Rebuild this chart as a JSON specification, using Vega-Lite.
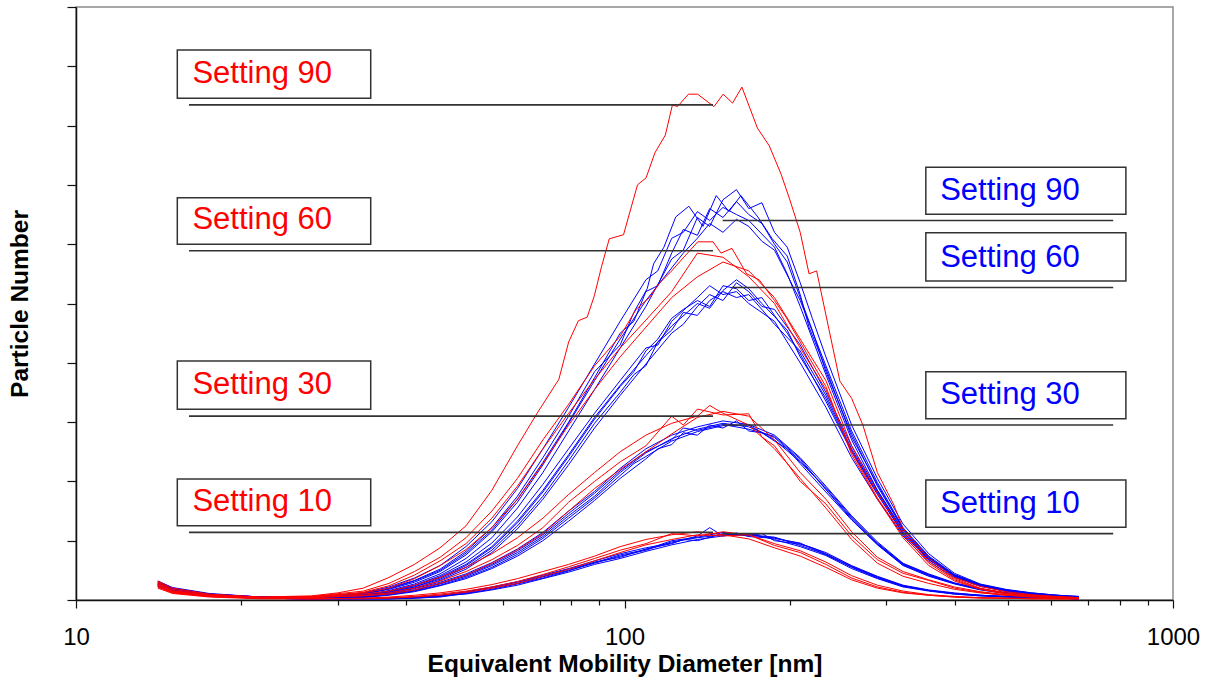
{
"$schema": "https://vega.github.io/schema/vega-lite/v6.json",
"width": 1097,
"height": 593,
"autosize": {"type": "none"},
"padding": {"left": 76, "top": 7, "right": 40, "bottom": 82},
"background": "white",
"config": {"view": {"stroke": "#8c8c8c", "strokeWidth": 1.5}, "font": "Liberation Sans"},
"datasets": {
"curves": [
{"s":"B1a","d":14.1,"v":0.24},{"s":"B1a","d":15.0,"v":0.15},{"s":"B1a","d":17.5,"v":0.07},{"s":"B1a","d":21.7,"v":0.03},{"s":"B1a","d":26.9,"v":0.02},{"s":"B1a","d":33.4,"v":0.02},{"s":"B1a","d":37.2,"v":0.02},{"s":"B1a","d":41.4,"v":0.03},{"s":"B1a","d":46.1,"v":0.06},{"s":"B1a","d":51.4,"v":0.12},{"s":"B1a","d":57.3,"v":0.2},{"s":"B1a","d":63.8,"v":0.28},{"s":"B1a","d":71.0,"v":0.39},{"s":"B1a","d":79.1,"v":0.5},{"s":"B1a","d":88.2,"v":0.62},{"s":"B1a","d":98.2,"v":0.74},{"s":"B1a","d":109.4,"v":0.84},{"s":"B1a","d":121.9,"v":0.98},{"s":"B1a","d":135.8,"v":1.05},{"s":"B1a","d":151.2,"v":1.1},{"s":"B1a","d":168.5,"v":1.1},{"s":"B1a","d":187.7,"v":1.06},{"s":"B1a","d":209.1,"v":0.92},{"s":"B1a","d":232.9,"v":0.77},{"s":"B1a","d":259.5,"v":0.55},{"s":"B1a","d":289.1,"v":0.37},{"s":"B1a","d":322.0,"v":0.23},{"s":"B1a","d":358.7,"v":0.16},{"s":"B1a","d":399.6,"v":0.11},{"s":"B1a","d":445.1,"v":0.08},{"s":"B1a","d":495.8,"v":0.06},{"s":"B1a","d":552.3,"v":0.04},{"s":"B1a","d":615.3,"v":0.03},{"s":"B1a","d":673.2,"v":0.02},
{"s":"B1b","d":14.1,"v":0.22},{"s":"B1b","d":15.0,"v":0.14},{"s":"B1b","d":17.5,"v":0.07},{"s":"B1b","d":21.7,"v":0.03},{"s":"B1b","d":26.9,"v":0.02},{"s":"B1b","d":33.4,"v":0.02},{"s":"B1b","d":37.2,"v":0.02},{"s":"B1b","d":41.4,"v":0.04},{"s":"B1b","d":46.1,"v":0.07},{"s":"B1b","d":51.4,"v":0.1},{"s":"B1b","d":57.3,"v":0.17},{"s":"B1b","d":63.8,"v":0.25},{"s":"B1b","d":71.0,"v":0.36},{"s":"B1b","d":79.1,"v":0.47},{"s":"B1b","d":88.2,"v":0.6},{"s":"B1b","d":98.2,"v":0.7},{"s":"B1b","d":109.4,"v":0.82},{"s":"B1b","d":121.9,"v":0.93},{"s":"B1b","d":135.8,"v":1.02},{"s":"B1b","d":151.2,"v":1.08},{"s":"B1b","d":160,"v":1.13},{"s":"B1b","d":168.5,"v":1.07},{"s":"B1b","d":187.7,"v":1.04},{"s":"B1b","d":209.1,"v":0.95},{"s":"B1b","d":232.9,"v":0.8},{"s":"B1b","d":259.5,"v":0.58},{"s":"B1b","d":289.1,"v":0.4},{"s":"B1b","d":322.0,"v":0.25},{"s":"B1b","d":358.7,"v":0.17},{"s":"B1b","d":399.6,"v":0.12},{"s":"B1b","d":445.1,"v":0.08},{"s":"B1b","d":495.8,"v":0.06},{"s":"B1b","d":552.3,"v":0.05},{"s":"B1b","d":615.3,"v":0.03},{"s":"B1b","d":673.2,"v":0.02},
{"s":"B1c","d":14.1,"v":0.26},{"s":"B1c","d":15.0,"v":0.16},{"s":"B1c","d":17.5,"v":0.08},{"s":"B1c","d":21.7,"v":0.03},{"s":"B1c","d":26.9,"v":0.02},{"s":"B1c","d":33.4,"v":0.03},{"s":"B1c","d":37.2,"v":0.03},{"s":"B1c","d":41.4,"v":0.05},{"s":"B1c","d":46.1,"v":0.08},{"s":"B1c","d":51.4,"v":0.14},{"s":"B1c","d":57.3,"v":0.22},{"s":"B1c","d":63.8,"v":0.31},{"s":"B1c","d":71.0,"v":0.42},{"s":"B1c","d":79.1,"v":0.53},{"s":"B1c","d":88.2,"v":0.66},{"s":"B1c","d":98.2,"v":0.78},{"s":"B1c","d":109.4,"v":0.88},{"s":"B1c","d":121.9,"v":0.96},{"s":"B1c","d":135.8,"v":1.08},{"s":"B1c","d":143,"v":1.22},{"s":"B1c","d":151.2,"v":1.08},{"s":"B1c","d":168.5,"v":1.12},{"s":"B1c","d":187.7,"v":1.02},{"s":"B1c","d":209.1,"v":0.9},{"s":"B1c","d":232.9,"v":0.75},{"s":"B1c","d":259.5,"v":0.53},{"s":"B1c","d":289.1,"v":0.36},{"s":"B1c","d":322.0,"v":0.22},{"s":"B1c","d":358.7,"v":0.15},{"s":"B1c","d":399.6,"v":0.1},{"s":"B1c","d":445.1,"v":0.07},{"s":"B1c","d":495.8,"v":0.05},{"s":"B1c","d":552.3,"v":0.04},{"s":"B1c","d":615.3,"v":0.03},{"s":"B1c","d":673.2,"v":0.02},
{"s":"B1d","d":14.1,"v":0.23},{"s":"B1d","d":15.0,"v":0.15},{"s":"B1d","d":17.5,"v":0.07},{"s":"B1d","d":21.7,"v":0.03},{"s":"B1d","d":26.9,"v":0.02},{"s":"B1d","d":33.4,"v":0.02},{"s":"B1d","d":37.2,"v":0.02},{"s":"B1d","d":41.4,"v":0.03},{"s":"B1d","d":46.1,"v":0.05},{"s":"B1d","d":51.4,"v":0.11},{"s":"B1d","d":57.3,"v":0.18},{"s":"B1d","d":63.8,"v":0.27},{"s":"B1d","d":71.0,"v":0.37},{"s":"B1d","d":79.1,"v":0.49},{"s":"B1d","d":88.2,"v":0.64},{"s":"B1d","d":98.2,"v":0.72},{"s":"B1d","d":109.4,"v":0.86},{"s":"B1d","d":121.9,"v":0.95},{"s":"B1d","d":128,"v":1.02},{"s":"B1d","d":135.8,"v":1.0},{"s":"B1d","d":151.2,"v":1.12},{"s":"B1d","d":168.5,"v":1.08},{"s":"B1d","d":178,"v":1.12},{"s":"B1d","d":187.7,"v":1.0},{"s":"B1d","d":209.1,"v":0.94},{"s":"B1d","d":220,"v":0.88},{"s":"B1d","d":232.9,"v":0.78},{"s":"B1d","d":259.5,"v":0.57},{"s":"B1d","d":289.1,"v":0.39},{"s":"B1d","d":322.0,"v":0.24},{"s":"B1d","d":358.7,"v":0.16},{"s":"B1d","d":399.6,"v":0.11},{"s":"B1d","d":445.1,"v":0.08},{"s":"B1d","d":495.8,"v":0.06},{"s":"B1d","d":552.3,"v":0.04},{"s":"B1d","d":615.3,"v":0.03},{"s":"B1d","d":673.2,"v":0.02},
{"s":"B1e","d":14.1,"v":0.25},{"s":"B1e","d":15.0,"v":0.16},{"s":"B1e","d":17.5,"v":0.08},{"s":"B1e","d":21.7,"v":0.04},{"s":"B1e","d":26.9,"v":0.02},{"s":"B1e","d":33.4,"v":0.02},{"s":"B1e","d":37.2,"v":0.03},{"s":"B1e","d":41.4,"v":0.04},{"s":"B1e","d":46.1,"v":0.07},{"s":"B1e","d":51.4,"v":0.13},{"s":"B1e","d":57.3,"v":0.21},{"s":"B1e","d":63.8,"v":0.3},{"s":"B1e","d":71.0,"v":0.4},{"s":"B1e","d":79.1,"v":0.52},{"s":"B1e","d":88.2,"v":0.63},{"s":"B1e","d":98.2,"v":0.76},{"s":"B1e","d":109.4,"v":0.85},{"s":"B1e","d":121.9,"v":1.0},{"s":"B1e","d":135.8,"v":1.06},{"s":"B1e","d":151.2,"v":1.14},{"s":"B1e","d":168.5,"v":1.09},{"s":"B1e","d":187.7,"v":1.05},{"s":"B1e","d":198,"v":1.0},{"s":"B1e","d":209.1,"v":0.96},{"s":"B1e","d":232.9,"v":0.76},{"s":"B1e","d":259.5,"v":0.56},{"s":"B1e","d":289.1,"v":0.38},{"s":"B1e","d":322.0,"v":0.24},{"s":"B1e","d":358.7,"v":0.16},{"s":"B1e","d":399.6,"v":0.1},{"s":"B1e","d":445.1,"v":0.07},{"s":"B1e","d":495.8,"v":0.05},{"s":"B1e","d":552.3,"v":0.04},{"s":"B1e","d":615.3,"v":0.03},{"s":"B1e","d":673.2,"v":0.02},
{"s":"B3a","d":14.1,"v":0.26},{"s":"B3a","d":15.0,"v":0.16},{"s":"B3a","d":17.5,"v":0.08},{"s":"B3a","d":21.7,"v":0.03},{"s":"B3a","d":26.9,"v":0.02},{"s":"B3a","d":33.4,"v":0.05},{"s":"B3a","d":37.2,"v":0.1},{"s":"B3a","d":41.4,"v":0.16},{"s":"B3a","d":46.1,"v":0.27},{"s":"B3a","d":51.4,"v":0.4},{"s":"B3a","d":57.3,"v":0.58},{"s":"B3a","d":63.8,"v":0.8},{"s":"B3a","d":71.0,"v":1.07},{"s":"B3a","d":79.1,"v":1.42},{"s":"B3a","d":88.2,"v":1.75},{"s":"B3a","d":98.2,"v":2.15},{"s":"B3a","d":109.4,"v":2.48},{"s":"B3a","d":121.9,"v":2.72},{"s":"B3a","d":135.8,"v":2.88},{"s":"B3a","d":151.2,"v":2.98},{"s":"B3a","d":168.5,"v":2.92},{"s":"B3a","d":187.7,"v":2.74},{"s":"B3a","d":209.1,"v":2.35},{"s":"B3a","d":232.9,"v":1.87},{"s":"B3a","d":259.5,"v":1.38},{"s":"B3a","d":289.1,"v":0.95},{"s":"B3a","d":322.0,"v":0.6},{"s":"B3a","d":358.7,"v":0.42},{"s":"B3a","d":399.6,"v":0.28},{"s":"B3a","d":445.1,"v":0.18},{"s":"B3a","d":495.8,"v":0.12},{"s":"B3a","d":552.3,"v":0.08},{"s":"B3a","d":615.3,"v":0.06},{"s":"B3a","d":673.2,"v":0.04},
{"s":"B3b","d":14.1,"v":0.24},{"s":"B3b","d":15.0,"v":0.15},{"s":"B3b","d":17.5,"v":0.07},{"s":"B3b","d":21.7,"v":0.03},{"s":"B3b","d":26.9,"v":0.02},{"s":"B3b","d":33.4,"v":0.04},{"s":"B3b","d":37.2,"v":0.08},{"s":"B3b","d":41.4,"v":0.14},{"s":"B3b","d":46.1,"v":0.24},{"s":"B3b","d":51.4,"v":0.36},{"s":"B3b","d":57.3,"v":0.53},{"s":"B3b","d":63.8,"v":0.74},{"s":"B3b","d":71.0,"v":1.0},{"s":"B3b","d":79.1,"v":1.33},{"s":"B3b","d":88.2,"v":1.68},{"s":"B3b","d":98.2,"v":2.05},{"s":"B3b","d":109.4,"v":2.38},{"s":"B3b","d":115,"v":2.55},{"s":"B3b","d":121.9,"v":2.62},{"s":"B3b","d":128,"v":2.82},{"s":"B3b","d":135.8,"v":2.78},{"s":"B3b","d":143,"v":2.95},{"s":"B3b","d":151.2,"v":2.9},{"s":"B3b","d":160,"v":3.02},{"s":"B3b","d":168.5,"v":2.85},{"s":"B3b","d":178,"v":2.82},{"s":"B3b","d":187.7,"v":2.68},{"s":"B3b","d":198,"v":2.55},{"s":"B3b","d":209.1,"v":2.3},{"s":"B3b","d":232.9,"v":1.82},{"s":"B3b","d":259.5,"v":1.35},{"s":"B3b","d":289.1,"v":0.93},{"s":"B3b","d":322.0,"v":0.58},{"s":"B3b","d":358.7,"v":0.4},{"s":"B3b","d":399.6,"v":0.27},{"s":"B3b","d":445.1,"v":0.17},{"s":"B3b","d":495.8,"v":0.11},{"s":"B3b","d":552.3,"v":0.08},{"s":"B3b","d":615.3,"v":0.05},{"s":"B3b","d":673.2,"v":0.04},
{"s":"B3c","d":14.1,"v":0.27},{"s":"B3c","d":15.0,"v":0.17},{"s":"B3c","d":17.5,"v":0.08},{"s":"B3c","d":21.7,"v":0.04},{"s":"B3c","d":26.9,"v":0.03},{"s":"B3c","d":33.4,"v":0.06},{"s":"B3c","d":37.2,"v":0.12},{"s":"B3c","d":41.4,"v":0.19},{"s":"B3c","d":46.1,"v":0.3},{"s":"B3c","d":51.4,"v":0.44},{"s":"B3c","d":57.3,"v":0.63},{"s":"B3c","d":63.8,"v":0.86},{"s":"B3c","d":71.0,"v":1.14},{"s":"B3c","d":79.1,"v":1.5},{"s":"B3c","d":88.2,"v":1.83},{"s":"B3c","d":98.2,"v":2.22},{"s":"B3c","d":109.4,"v":2.55},{"s":"B3c","d":121.9,"v":2.78},{"s":"B3c","d":135.8,"v":2.92},{"s":"B3c","d":151.2,"v":3.02},{"s":"B3c","d":168.5,"v":2.96},{"s":"B3c","d":187.7,"v":2.78},{"s":"B3c","d":209.1,"v":2.4},{"s":"B3c","d":232.9,"v":1.92},{"s":"B3c","d":259.5,"v":1.42},{"s":"B3c","d":289.1,"v":0.98},{"s":"B3c","d":322.0,"v":0.62},{"s":"B3c","d":358.7,"v":0.44},{"s":"B3c","d":399.6,"v":0.29},{"s":"B3c","d":445.1,"v":0.19},{"s":"B3c","d":495.8,"v":0.12},{"s":"B3c","d":552.3,"v":0.08},{"s":"B3c","d":615.3,"v":0.06},{"s":"B3c","d":673.2,"v":0.04},
{"s":"B3d","d":14.1,"v":0.25},{"s":"B3d","d":15.0,"v":0.16},{"s":"B3d","d":17.5,"v":0.08},{"s":"B3d","d":21.7,"v":0.03},{"s":"B3d","d":26.9,"v":0.02},{"s":"B3d","d":33.4,"v":0.05},{"s":"B3d","d":37.2,"v":0.09},{"s":"B3d","d":41.4,"v":0.15},{"s":"B3d","d":46.1,"v":0.25},{"s":"B3d","d":51.4,"v":0.38},{"s":"B3d","d":57.3,"v":0.55},{"s":"B3d","d":63.8,"v":0.77},{"s":"B3d","d":71.0,"v":1.04},{"s":"B3d","d":79.1,"v":1.38},{"s":"B3d","d":88.2,"v":1.72},{"s":"B3d","d":98.2,"v":2.1},{"s":"B3d","d":104,"v":2.3},{"s":"B3d","d":109.4,"v":2.42},{"s":"B3d","d":121.9,"v":2.68},{"s":"B3d","d":135.8,"v":2.84},{"s":"B3d","d":151.2,"v":2.94},{"s":"B3d","d":168.5,"v":2.95},{"s":"B3d","d":187.7,"v":2.7},{"s":"B3d","d":209.1,"v":2.33},{"s":"B3d","d":220,"v":2.12},{"s":"B3d","d":232.9,"v":1.9},{"s":"B3d","d":259.5,"v":1.4},{"s":"B3d","d":289.1,"v":0.96},{"s":"B3d","d":322.0,"v":0.61},{"s":"B3d","d":358.7,"v":0.43},{"s":"B3d","d":399.6,"v":0.28},{"s":"B3d","d":445.1,"v":0.18},{"s":"B3d","d":495.8,"v":0.12},{"s":"B3d","d":552.3,"v":0.08},{"s":"B3d","d":615.3,"v":0.06},{"s":"B3d","d":673.2,"v":0.04},
{"s":"B3e","d":14.1,"v":0.23},{"s":"B3e","d":15.0,"v":0.14},{"s":"B3e","d":17.5,"v":0.07},{"s":"B3e","d":21.7,"v":0.03},{"s":"B3e","d":26.9,"v":0.02},{"s":"B3e","d":33.4,"v":0.05},{"s":"B3e","d":37.2,"v":0.11},{"s":"B3e","d":41.4,"v":0.17},{"s":"B3e","d":46.1,"v":0.28},{"s":"B3e","d":51.4,"v":0.42},{"s":"B3e","d":57.3,"v":0.6},{"s":"B3e","d":63.8,"v":0.83},{"s":"B3e","d":71.0,"v":1.1},{"s":"B3e","d":79.1,"v":1.46},{"s":"B3e","d":88.2,"v":1.8},{"s":"B3e","d":98.2,"v":2.18},{"s":"B3e","d":109.4,"v":2.5},{"s":"B3e","d":121.9,"v":2.7},{"s":"B3e","d":128,"v":2.9},{"s":"B3e","d":135.8,"v":2.86},{"s":"B3e","d":151.2,"v":2.96},{"s":"B3e","d":168.5,"v":2.88},{"s":"B3e","d":187.7,"v":2.76},{"s":"B3e","d":209.1,"v":2.38},{"s":"B3e","d":232.9,"v":1.86},{"s":"B3e","d":259.5,"v":1.36},{"s":"B3e","d":289.1,"v":0.94},{"s":"B3e","d":322.0,"v":0.59},{"s":"B3e","d":358.7,"v":0.41},{"s":"B3e","d":399.6,"v":0.28},{"s":"B3e","d":445.1,"v":0.18},{"s":"B3e","d":495.8,"v":0.12},{"s":"B3e","d":552.3,"v":0.08},{"s":"B3e","d":615.3,"v":0.06},{"s":"B3e","d":673.2,"v":0.04},
{"s":"B6a","d":14.1,"v":0.28},{"s":"B6a","d":15.0,"v":0.18},{"s":"B6a","d":17.5,"v":0.09},{"s":"B6a","d":21.7,"v":0.04},{"s":"B6a","d":26.9,"v":0.03},{"s":"B6a","d":33.4,"v":0.07},{"s":"B6a","d":37.2,"v":0.13},{"s":"B6a","d":41.4,"v":0.22},{"s":"B6a","d":46.1,"v":0.37},{"s":"B6a","d":51.4,"v":0.58},{"s":"B6a","d":57.3,"v":0.88},{"s":"B6a","d":63.8,"v":1.3},{"s":"B6a","d":71.0,"v":1.82},{"s":"B6a","d":79.1,"v":2.42},{"s":"B6a","d":88.2,"v":3.05},{"s":"B6a","d":98.2,"v":3.6},{"s":"B6a","d":104,"v":3.85},{"s":"B6a","d":109.4,"v":4.2},{"s":"B6a","d":115,"v":4.4},{"s":"B6a","d":121.9,"v":4.75},{"s":"B6a","d":128,"v":4.9},{"s":"B6a","d":135.8,"v":5.05},{"s":"B6a","d":143,"v":4.95},{"s":"B6a","d":151.2,"v":5.3},{"s":"B6a","d":160,"v":5.25},{"s":"B6a","d":168.5,"v":5.05},{"s":"B6a","d":178,"v":5.1},{"s":"B6a","d":187.7,"v":4.8},{"s":"B6a","d":198,"v":4.5},{"s":"B6a","d":209.1,"v":4.15},{"s":"B6a","d":232.9,"v":3.35},{"s":"B6a","d":259.5,"v":2.5},{"s":"B6a","d":289.1,"v":1.78},{"s":"B6a","d":322.0,"v":1.12},{"s":"B6a","d":358.7,"v":0.68},{"s":"B6a","d":399.6,"v":0.4},{"s":"B6a","d":445.1,"v":0.24},{"s":"B6a","d":495.8,"v":0.15},{"s":"B6a","d":552.3,"v":0.1},{"s":"B6a","d":615.3,"v":0.07},{"s":"B6a","d":673.2,"v":0.05},
{"s":"B6b","d":14.1,"v":0.26},{"s":"B6b","d":15.0,"v":0.17},{"s":"B6b","d":17.5,"v":0.08},{"s":"B6b","d":21.7,"v":0.04},{"s":"B6b","d":26.9,"v":0.03},{"s":"B6b","d":33.4,"v":0.06},{"s":"B6b","d":37.2,"v":0.12},{"s":"B6b","d":41.4,"v":0.2},{"s":"B6b","d":46.1,"v":0.33},{"s":"B6b","d":51.4,"v":0.52},{"s":"B6b","d":57.3,"v":0.8},{"s":"B6b","d":63.8,"v":1.2},{"s":"B6b","d":71.0,"v":1.7},{"s":"B6b","d":79.1,"v":2.28},{"s":"B6b","d":88.2,"v":2.9},{"s":"B6b","d":98.2,"v":3.45},{"s":"B6b","d":109.4,"v":3.98},{"s":"B6b","d":121.9,"v":4.5},{"s":"B6b","d":128,"v":4.65},{"s":"B6b","d":135.8,"v":4.95},{"s":"B6b","d":143,"v":5.15},{"s":"B6b","d":151.2,"v":5.05},{"s":"B6b","d":160,"v":5.35},{"s":"B6b","d":168.5,"v":5.2},{"s":"B6b","d":178,"v":4.95},{"s":"B6b","d":187.7,"v":4.9},{"s":"B6b","d":209.1,"v":4.3},{"s":"B6b","d":232.9,"v":3.5},{"s":"B6b","d":259.5,"v":2.6},{"s":"B6b","d":289.1,"v":1.85},{"s":"B6b","d":322.0,"v":1.18},{"s":"B6b","d":358.7,"v":0.7},{"s":"B6b","d":399.6,"v":0.42},{"s":"B6b","d":445.1,"v":0.25},{"s":"B6b","d":495.8,"v":0.16},{"s":"B6b","d":552.3,"v":0.1},{"s":"B6b","d":615.3,"v":0.07},{"s":"B6b","d":673.2,"v":0.05},
{"s":"B6c","d":14.1,"v":0.3},{"s":"B6c","d":15.0,"v":0.19},{"s":"B6c","d":17.5,"v":0.09},{"s":"B6c","d":21.7,"v":0.04},{"s":"B6c","d":26.9,"v":0.03},{"s":"B6c","d":33.4,"v":0.08},{"s":"B6c","d":37.2,"v":0.15},{"s":"B6c","d":41.4,"v":0.25},{"s":"B6c","d":46.1,"v":0.41},{"s":"B6c","d":51.4,"v":0.64},{"s":"B6c","d":57.3,"v":0.96},{"s":"B6c","d":63.8,"v":1.4},{"s":"B6c","d":71.0,"v":1.95},{"s":"B6c","d":79.1,"v":2.55},{"s":"B6c","d":88.2,"v":3.15},{"s":"B6c","d":98.2,"v":3.7},{"s":"B6c","d":109.4,"v":4.25},{"s":"B6c","d":115,"v":4.3},{"s":"B6c","d":121.9,"v":4.7},{"s":"B6c","d":135.8,"v":5.1},{"s":"B6c","d":143,"v":5.3},{"s":"B6c","d":151.2,"v":5.15},{"s":"B6c","d":160,"v":5.2},{"s":"B6c","d":168.5,"v":5.0},{"s":"B6c","d":187.7,"v":4.7},{"s":"B6c","d":198,"v":4.35},{"s":"B6c","d":209.1,"v":4.0},{"s":"B6c","d":232.9,"v":3.25},{"s":"B6c","d":259.5,"v":2.4},{"s":"B6c","d":289.1,"v":1.7},{"s":"B6c","d":322.0,"v":1.08},{"s":"B6c","d":358.7,"v":0.65},{"s":"B6c","d":399.6,"v":0.38},{"s":"B6c","d":445.1,"v":0.23},{"s":"B6c","d":495.8,"v":0.15},{"s":"B6c","d":552.3,"v":0.1},{"s":"B6c","d":615.3,"v":0.06},{"s":"B6c","d":673.2,"v":0.05},
{"s":"B6d","d":14.1,"v":0.27},{"s":"B6d","d":15.0,"v":0.17},{"s":"B6d","d":17.5,"v":0.09},{"s":"B6d","d":21.7,"v":0.04},{"s":"B6d","d":26.9,"v":0.03},{"s":"B6d","d":33.4,"v":0.07},{"s":"B6d","d":37.2,"v":0.13},{"s":"B6d","d":41.4,"v":0.22},{"s":"B6d","d":46.1,"v":0.35},{"s":"B6d","d":51.4,"v":0.55},{"s":"B6d","d":57.3,"v":0.84},{"s":"B6d","d":63.8,"v":1.25},{"s":"B6d","d":71.0,"v":1.75},{"s":"B6d","d":79.1,"v":2.35},{"s":"B6d","d":88.2,"v":2.98},{"s":"B6d","d":98.2,"v":3.5},{"s":"B6d","d":104,"v":3.8},{"s":"B6d","d":109.4,"v":3.95},{"s":"B6d","d":115,"v":4.35},{"s":"B6d","d":121.9,"v":4.55},{"s":"B6d","d":128,"v":4.85},{"s":"B6d","d":135.8,"v":4.8},{"s":"B6d","d":143,"v":5.05},{"s":"B6d","d":151.2,"v":5.2},{"s":"B6d","d":160,"v":5.1},{"s":"B6d","d":168.5,"v":5.15},{"s":"B6d","d":178,"v":4.9},{"s":"B6d","d":187.7,"v":4.65},{"s":"B6d","d":209.1,"v":4.2},{"s":"B6d","d":232.9,"v":3.45},{"s":"B6d","d":259.5,"v":2.55},{"s":"B6d","d":289.1,"v":1.82},{"s":"B6d","d":322.0,"v":1.15},{"s":"B6d","d":358.7,"v":0.69},{"s":"B6d","d":399.6,"v":0.41},{"s":"B6d","d":445.1,"v":0.24},{"s":"B6d","d":495.8,"v":0.15},{"s":"B6d","d":552.3,"v":0.1},{"s":"B6d","d":615.3,"v":0.07},{"s":"B6d","d":673.2,"v":0.05},
{"s":"B6e","d":14.1,"v":0.29},{"s":"B6e","d":15.0,"v":0.18},{"s":"B6e","d":17.5,"v":0.09},{"s":"B6e","d":21.7,"v":0.04},{"s":"B6e","d":26.9,"v":0.04},{"s":"B6e","d":33.4,"v":0.08},{"s":"B6e","d":37.2,"v":0.14},{"s":"B6e","d":41.4,"v":0.24},{"s":"B6e","d":46.1,"v":0.39},{"s":"B6e","d":51.4,"v":0.6},{"s":"B6e","d":57.3,"v":0.9},{"s":"B6e","d":63.8,"v":1.33},{"s":"B6e","d":71.0,"v":1.85},{"s":"B6e","d":79.1,"v":2.45},{"s":"B6e","d":88.2,"v":3.08},{"s":"B6e","d":98.2,"v":3.62},{"s":"B6e","d":109.4,"v":4.12},{"s":"B6e","d":121.9,"v":4.62},{"s":"B6e","d":135.8,"v":5.0},{"s":"B6e","d":143,"v":4.92},{"s":"B6e","d":151.2,"v":5.22},{"s":"B6e","d":160,"v":5.4},{"s":"B6e","d":168.5,"v":5.25},{"s":"B6e","d":178,"v":5.0},{"s":"B6e","d":187.7,"v":4.78},{"s":"B6e","d":198,"v":4.55},{"s":"B6e","d":209.1,"v":4.1},{"s":"B6e","d":232.9,"v":3.4},{"s":"B6e","d":259.5,"v":2.52},{"s":"B6e","d":289.1,"v":1.8},{"s":"B6e","d":322.0,"v":1.12},{"s":"B6e","d":358.7,"v":0.68},{"s":"B6e","d":399.6,"v":0.4},{"s":"B6e","d":445.1,"v":0.24},{"s":"B6e","d":495.8,"v":0.15},{"s":"B6e","d":552.3,"v":0.1},{"s":"B6e","d":615.3,"v":0.07},{"s":"B6e","d":673.2,"v":0.05},
{"s":"B9a","d":14.1,"v":0.3},{"s":"B9a","d":15.0,"v":0.2},{"s":"B9a","d":17.5,"v":0.1},{"s":"B9a","d":21.7,"v":0.05},{"s":"B9a","d":26.9,"v":0.05},{"s":"B9a","d":33.4,"v":0.11},{"s":"B9a","d":37.2,"v":0.2},{"s":"B9a","d":41.4,"v":0.33},{"s":"B9a","d":46.1,"v":0.52},{"s":"B9a","d":51.4,"v":0.82},{"s":"B9a","d":57.3,"v":1.22},{"s":"B9a","d":63.8,"v":1.75},{"s":"B9a","d":71.0,"v":2.4},{"s":"B9a","d":79.1,"v":3.1},{"s":"B9a","d":88.2,"v":3.85},{"s":"B9a","d":98.2,"v":4.3},{"s":"B9a","d":104,"v":4.85},{"s":"B9a","d":110,"v":5.25},{"s":"B9a","d":113,"v":5.67},{"s":"B9a","d":118,"v":5.95},{"s":"B9a","d":124,"v":6.46},{"s":"B9a","d":131,"v":6.64},{"s":"B9a","d":139,"v":6.3},{"s":"B9a","d":147,"v":6.82},{"s":"B9a","d":155,"v":6.55},{"s":"B9a","d":163,"v":6.82},{"s":"B9a","d":175,"v":6.46},{"s":"B9a","d":186,"v":6.09},{"s":"B9a","d":198,"v":5.8},{"s":"B9a","d":209.1,"v":5.15},{"s":"B9a","d":217,"v":4.6},{"s":"B9a","d":232.9,"v":3.9},{"s":"B9a","d":259.5,"v":2.75},{"s":"B9a","d":289.1,"v":1.95},{"s":"B9a","d":322.0,"v":1.2},{"s":"B9a","d":358.7,"v":0.72},{"s":"B9a","d":399.6,"v":0.42},{"s":"B9a","d":445.1,"v":0.26},{"s":"B9a","d":495.8,"v":0.17},{"s":"B9a","d":552.3,"v":0.12},{"s":"B9a","d":615.3,"v":0.08},{"s":"B9a","d":673.2,"v":0.06},
{"s":"B9b","d":14.1,"v":0.27},{"s":"B9b","d":15.0,"v":0.17},{"s":"B9b","d":17.5,"v":0.09},{"s":"B9b","d":21.7,"v":0.04},{"s":"B9b","d":26.9,"v":0.04},{"s":"B9b","d":33.4,"v":0.08},{"s":"B9b","d":37.2,"v":0.16},{"s":"B9b","d":41.4,"v":0.27},{"s":"B9b","d":46.1,"v":0.44},{"s":"B9b","d":51.4,"v":0.7},{"s":"B9b","d":57.3,"v":1.05},{"s":"B9b","d":63.8,"v":1.55},{"s":"B9b","d":71.0,"v":2.15},{"s":"B9b","d":79.1,"v":2.85},{"s":"B9b","d":88.2,"v":3.55},{"s":"B9b","d":98.2,"v":4.25},{"s":"B9b","d":109.4,"v":4.95},{"s":"B9b","d":121.9,"v":5.75},{"s":"B9b","d":128,"v":5.9},{"s":"B9b","d":135.8,"v":6.45},{"s":"B9b","d":143,"v":6.3},{"s":"B9b","d":151.2,"v":6.75},{"s":"B9b","d":160,"v":6.92},{"s":"B9b","d":168.5,"v":6.6},{"s":"B9b","d":178,"v":6.7},{"s":"B9b","d":187.7,"v":6.2},{"s":"B9b","d":198,"v":5.95},{"s":"B9b","d":209.1,"v":5.35},{"s":"B9b","d":220,"v":4.75},{"s":"B9b","d":232.9,"v":4.1},{"s":"B9b","d":259.5,"v":2.95},{"s":"B9b","d":289.1,"v":2.05},{"s":"B9b","d":322.0,"v":1.28},{"s":"B9b","d":358.7,"v":0.78},{"s":"B9b","d":399.6,"v":0.45},{"s":"B9b","d":445.1,"v":0.27},{"s":"B9b","d":495.8,"v":0.18},{"s":"B9b","d":552.3,"v":0.12},{"s":"B9b","d":615.3,"v":0.08},{"s":"B9b","d":673.2,"v":0.06},
{"s":"B9c","d":14.1,"v":0.32},{"s":"B9c","d":15.0,"v":0.21},{"s":"B9c","d":17.5,"v":0.11},{"s":"B9c","d":21.7,"v":0.05},{"s":"B9c","d":26.9,"v":0.05},{"s":"B9c","d":33.4,"v":0.12},{"s":"B9c","d":37.2,"v":0.22},{"s":"B9c","d":41.4,"v":0.37},{"s":"B9c","d":46.1,"v":0.58},{"s":"B9c","d":51.4,"v":0.9},{"s":"B9c","d":57.3,"v":1.32},{"s":"B9c","d":63.8,"v":1.88},{"s":"B9c","d":71.0,"v":2.55},{"s":"B9c","d":79.1,"v":3.25},{"s":"B9c","d":88.2,"v":3.98},{"s":"B9c","d":98.2,"v":4.7},{"s":"B9c","d":109.4,"v":5.4},{"s":"B9c","d":115,"v":5.55},{"s":"B9c","d":121.9,"v":6.1},{"s":"B9c","d":128,"v":6.2},{"s":"B9c","d":135.8,"v":6.55},{"s":"B9c","d":143,"v":6.4},{"s":"B9c","d":151.2,"v":6.62},{"s":"B9c","d":160,"v":6.5},{"s":"B9c","d":168.5,"v":6.4},{"s":"B9c","d":187.7,"v":5.95},{"s":"B9c","d":198,"v":5.5},{"s":"B9c","d":209.1,"v":4.95},{"s":"B9c","d":232.9,"v":3.8},{"s":"B9c","d":259.5,"v":2.7},{"s":"B9c","d":289.1,"v":1.85},{"s":"B9c","d":322.0,"v":1.15},{"s":"B9c","d":358.7,"v":0.7},{"s":"B9c","d":399.6,"v":0.4},{"s":"B9c","d":445.1,"v":0.25},{"s":"B9c","d":495.8,"v":0.16},{"s":"B9c","d":552.3,"v":0.11},{"s":"B9c","d":615.3,"v":0.07},{"s":"B9c","d":673.2,"v":0.05},
{"s":"B9d","d":14.1,"v":0.29},{"s":"B9d","d":15.0,"v":0.19},{"s":"B9d","d":17.5,"v":0.1},{"s":"B9d","d":21.7,"v":0.05},{"s":"B9d","d":26.9,"v":0.04},{"s":"B9d","d":33.4,"v":0.1},{"s":"B9d","d":37.2,"v":0.18},{"s":"B9d","d":41.4,"v":0.3},{"s":"B9d","d":46.1,"v":0.48},{"s":"B9d","d":51.4,"v":0.76},{"s":"B9d","d":57.3,"v":1.15},{"s":"B9d","d":63.8,"v":1.65},{"s":"B9d","d":71.0,"v":2.28},{"s":"B9d","d":79.1,"v":2.98},{"s":"B9d","d":88.2,"v":3.7},{"s":"B9d","d":98.2,"v":4.4},{"s":"B9d","d":109.4,"v":5.05},{"s":"B9d","d":121.9,"v":5.6},{"s":"B9d","d":128,"v":5.85},{"s":"B9d","d":135.8,"v":6.1},{"s":"B9d","d":143,"v":6.35},{"s":"B9d","d":151.2,"v":6.2},{"s":"B9d","d":160,"v":6.42},{"s":"B9d","d":168.5,"v":6.3},{"s":"B9d","d":178,"v":6.05},{"s":"B9d","d":187.7,"v":5.9},{"s":"B9d","d":209.1,"v":5.05},{"s":"B9d","d":232.9,"v":3.95},{"s":"B9d","d":259.5,"v":2.85},{"s":"B9d","d":289.1,"v":1.98},{"s":"B9d","d":322.0,"v":1.22},{"s":"B9d","d":358.7,"v":0.74},{"s":"B9d","d":399.6,"v":0.43},{"s":"B9d","d":445.1,"v":0.26},{"s":"B9d","d":495.8,"v":0.17},{"s":"B9d","d":552.3,"v":0.11},{"s":"B9d","d":615.3,"v":0.08},{"s":"B9d","d":673.2,"v":0.05},
{"s":"B9e","d":14.1,"v":0.31},{"s":"B9e","d":15.0,"v":0.2},{"s":"B9e","d":17.5,"v":0.1},{"s":"B9e","d":21.7,"v":0.05},{"s":"B9e","d":26.9,"v":0.05},{"s":"B9e","d":33.4,"v":0.1},{"s":"B9e","d":37.2,"v":0.19},{"s":"B9e","d":41.4,"v":0.32},{"s":"B9e","d":46.1,"v":0.5},{"s":"B9e","d":51.4,"v":0.79},{"s":"B9e","d":57.3,"v":1.18},{"s":"B9e","d":63.8,"v":1.7},{"s":"B9e","d":71.0,"v":2.32},{"s":"B9e","d":79.1,"v":3.0},{"s":"B9e","d":88.2,"v":3.75},{"s":"B9e","d":98.2,"v":4.5},{"s":"B9e","d":104,"v":4.7},{"s":"B9e","d":109.4,"v":5.2},{"s":"B9e","d":115,"v":5.3},{"s":"B9e","d":121.9,"v":5.85},{"s":"B9e","d":128,"v":6.25},{"s":"B9e","d":135.8,"v":6.15},{"s":"B9e","d":143,"v":6.6},{"s":"B9e","d":151.2,"v":6.45},{"s":"B9e","d":160,"v":6.72},{"s":"B9e","d":168.5,"v":6.5},{"s":"B9e","d":178,"v":6.35},{"s":"B9e","d":187.7,"v":6.0},{"s":"B9e","d":198,"v":5.7},{"s":"B9e","d":209.1,"v":5.1},{"s":"B9e","d":220,"v":4.55},{"s":"B9e","d":232.9,"v":3.85},{"s":"B9e","d":259.5,"v":2.8},{"s":"B9e","d":289.1,"v":1.92},{"s":"B9e","d":322.0,"v":1.2},{"s":"B9e","d":358.7,"v":0.72},{"s":"B9e","d":399.6,"v":0.42},{"s":"B9e","d":445.1,"v":0.26},{"s":"B9e","d":495.8,"v":0.17},{"s":"B9e","d":552.3,"v":0.11},{"s":"B9e","d":615.3,"v":0.07},{"s":"B9e","d":673.2,"v":0.05},
{"s":"R1a","d":14.1,"v":0.22},{"s":"R1a","d":15.0,"v":0.12},{"s":"R1a","d":17.5,"v":0.06},{"s":"R1a","d":21.7,"v":0.03},{"s":"R1a","d":26.9,"v":0.02},{"s":"R1a","d":33.4,"v":0.03},{"s":"R1a","d":37.2,"v":0.04},{"s":"R1a","d":41.4,"v":0.06},{"s":"R1a","d":46.1,"v":0.1},{"s":"R1a","d":51.4,"v":0.15},{"s":"R1a","d":57.3,"v":0.22},{"s":"R1a","d":63.8,"v":0.31},{"s":"R1a","d":71.0,"v":0.43},{"s":"R1a","d":79.1,"v":0.56},{"s":"R1a","d":88.2,"v":0.7},{"s":"R1a","d":98.2,"v":0.84},{"s":"R1a","d":109.4,"v":0.95},{"s":"R1a","d":121.9,"v":1.12},{"s":"R1a","d":135.8,"v":1.08},{"s":"R1a","d":151.2,"v":1.15},{"s":"R1a","d":168.5,"v":1.1},{"s":"R1a","d":187.7,"v":0.92},{"s":"R1a","d":209.1,"v":0.8},{"s":"R1a","d":232.9,"v":0.6},{"s":"R1a","d":259.5,"v":0.37},{"s":"R1a","d":289.1,"v":0.22},{"s":"R1a","d":322.0,"v":0.13},{"s":"R1a","d":358.7,"v":0.08},{"s":"R1a","d":399.6,"v":0.05},{"s":"R1a","d":445.1,"v":0.04},{"s":"R1a","d":495.8,"v":0.03},{"s":"R1a","d":552.3,"v":0.02},{"s":"R1a","d":615.3,"v":0.02},{"s":"R1a","d":673.2,"v":0.02},
{"s":"R1b","d":14.1,"v":0.2},{"s":"R1b","d":15.0,"v":0.11},{"s":"R1b","d":17.5,"v":0.05},{"s":"R1b","d":21.7,"v":0.02},{"s":"R1b","d":26.9,"v":0.02},{"s":"R1b","d":33.4,"v":0.03},{"s":"R1b","d":37.2,"v":0.05},{"s":"R1b","d":41.4,"v":0.08},{"s":"R1b","d":46.1,"v":0.12},{"s":"R1b","d":51.4,"v":0.18},{"s":"R1b","d":57.3,"v":0.26},{"s":"R1b","d":63.8,"v":0.36},{"s":"R1b","d":71.0,"v":0.48},{"s":"R1b","d":79.1,"v":0.6},{"s":"R1b","d":88.2,"v":0.74},{"s":"R1b","d":98.2,"v":0.9},{"s":"R1b","d":109.4,"v":1.02},{"s":"R1b","d":121.9,"v":1.1},{"s":"R1b","d":135.8,"v":1.15},{"s":"R1b","d":151.2,"v":1.1},{"s":"R1b","d":168.5,"v":1.03},{"s":"R1b","d":187.7,"v":0.88},{"s":"R1b","d":209.1,"v":0.74},{"s":"R1b","d":232.9,"v":0.55},{"s":"R1b","d":259.5,"v":0.34},{"s":"R1b","d":289.1,"v":0.2},{"s":"R1b","d":322.0,"v":0.12},{"s":"R1b","d":358.7,"v":0.08},{"s":"R1b","d":399.6,"v":0.05},{"s":"R1b","d":445.1,"v":0.03},{"s":"R1b","d":495.8,"v":0.03},{"s":"R1b","d":552.3,"v":0.02},{"s":"R1b","d":615.3,"v":0.02},{"s":"R1b","d":673.2,"v":0.02},
{"s":"R1c","d":14.1,"v":0.24},{"s":"R1c","d":15.0,"v":0.13},{"s":"R1c","d":17.5,"v":0.06},{"s":"R1c","d":21.7,"v":0.03},{"s":"R1c","d":26.9,"v":0.02},{"s":"R1c","d":33.4,"v":0.02},{"s":"R1c","d":37.2,"v":0.03},{"s":"R1c","d":41.4,"v":0.05},{"s":"R1c","d":46.1,"v":0.08},{"s":"R1c","d":51.4,"v":0.13},{"s":"R1c","d":57.3,"v":0.2},{"s":"R1c","d":63.8,"v":0.28},{"s":"R1c","d":71.0,"v":0.4},{"s":"R1c","d":79.1,"v":0.52},{"s":"R1c","d":88.2,"v":0.66},{"s":"R1c","d":98.2,"v":0.8},{"s":"R1c","d":109.4,"v":0.93},{"s":"R1c","d":121.9,"v":1.02},{"s":"R1c","d":135.8,"v":1.1},{"s":"R1c","d":151.2,"v":1.08},{"s":"R1c","d":168.5,"v":1.1},{"s":"R1c","d":187.7,"v":0.95},{"s":"R1c","d":209.1,"v":0.83},{"s":"R1c","d":232.9,"v":0.64},{"s":"R1c","d":259.5,"v":0.41},{"s":"R1c","d":289.1,"v":0.25},{"s":"R1c","d":322.0,"v":0.15},{"s":"R1c","d":358.7,"v":0.09},{"s":"R1c","d":399.6,"v":0.06},{"s":"R1c","d":445.1,"v":0.04},{"s":"R1c","d":495.8,"v":0.03},{"s":"R1c","d":552.3,"v":0.03},{"s":"R1c","d":615.3,"v":0.02},{"s":"R1c","d":673.2,"v":0.02},
{"s":"R3a","d":14.1,"v":0.25},{"s":"R3a","d":15.0,"v":0.14},{"s":"R3a","d":17.5,"v":0.07},{"s":"R3a","d":21.7,"v":0.03},{"s":"R3a","d":26.9,"v":0.04},{"s":"R3a","d":33.4,"v":0.08},{"s":"R3a","d":37.2,"v":0.12},{"s":"R3a","d":41.4,"v":0.2},{"s":"R3a","d":46.1,"v":0.32},{"s":"R3a","d":51.4,"v":0.48},{"s":"R3a","d":57.3,"v":0.68},{"s":"R3a","d":63.8,"v":0.92},{"s":"R3a","d":71.0,"v":1.22},{"s":"R3a","d":79.1,"v":1.65},{"s":"R3a","d":88.2,"v":2.0},{"s":"R3a","d":98.2,"v":2.33},{"s":"R3a","d":109.4,"v":2.6},{"s":"R3a","d":121.9,"v":3.1},{"s":"R3a","d":128,"v":2.95},{"s":"R3a","d":135.8,"v":3.22},{"s":"R3a","d":151.2,"v":3.12},{"s":"R3a","d":168.5,"v":3.14},{"s":"R3a","d":178,"v":2.75},{"s":"R3a","d":187.7,"v":2.6},{"s":"R3a","d":209.1,"v":2.0},{"s":"R3a","d":232.9,"v":1.62},{"s":"R3a","d":259.5,"v":1.08},{"s":"R3a","d":289.1,"v":0.68},{"s":"R3a","d":322.0,"v":0.45},{"s":"R3a","d":358.7,"v":0.33},{"s":"R3a","d":399.6,"v":0.2},{"s":"R3a","d":445.1,"v":0.13},{"s":"R3a","d":495.8,"v":0.08},{"s":"R3a","d":552.3,"v":0.06},{"s":"R3a","d":615.3,"v":0.04},{"s":"R3a","d":673.2,"v":0.03},
{"s":"R3b","d":14.1,"v":0.22},{"s":"R3b","d":15.0,"v":0.13},{"s":"R3b","d":17.5,"v":0.06},{"s":"R3b","d":21.7,"v":0.03},{"s":"R3b","d":26.9,"v":0.05},{"s":"R3b","d":33.4,"v":0.1},{"s":"R3b","d":37.2,"v":0.15},{"s":"R3b","d":41.4,"v":0.25},{"s":"R3b","d":46.1,"v":0.38},{"s":"R3b","d":51.4,"v":0.55},{"s":"R3b","d":57.3,"v":0.78},{"s":"R3b","d":63.8,"v":1.05},{"s":"R3b","d":71.0,"v":1.38},{"s":"R3b","d":79.1,"v":1.78},{"s":"R3b","d":88.2,"v":2.15},{"s":"R3b","d":98.2,"v":2.5},{"s":"R3b","d":109.4,"v":2.78},{"s":"R3b","d":121.9,"v":2.98},{"s":"R3b","d":135.8,"v":3.1},{"s":"R3b","d":143,"v":3.28},{"s":"R3b","d":151.2,"v":3.15},{"s":"R3b","d":168.5,"v":2.95},{"s":"R3b","d":187.7,"v":2.55},{"s":"R3b","d":209.1,"v":2.05},{"s":"R3b","d":232.9,"v":1.55},{"s":"R3b","d":259.5,"v":1.02},{"s":"R3b","d":289.1,"v":0.62},{"s":"R3b","d":322.0,"v":0.4},{"s":"R3b","d":358.7,"v":0.28},{"s":"R3b","d":399.6,"v":0.18},{"s":"R3b","d":445.1,"v":0.12},{"s":"R3b","d":495.8,"v":0.08},{"s":"R3b","d":552.3,"v":0.05},{"s":"R3b","d":615.3,"v":0.04},{"s":"R3b","d":673.2,"v":0.03},
{"s":"R3c","d":14.1,"v":0.27},{"s":"R3c","d":15.0,"v":0.15},{"s":"R3c","d":17.5,"v":0.07},{"s":"R3c","d":21.7,"v":0.04},{"s":"R3c","d":26.9,"v":0.04},{"s":"R3c","d":33.4,"v":0.07},{"s":"R3c","d":37.2,"v":0.1},{"s":"R3c","d":41.4,"v":0.17},{"s":"R3c","d":46.1,"v":0.28},{"s":"R3c","d":51.4,"v":0.42},{"s":"R3c","d":57.3,"v":0.62},{"s":"R3c","d":63.8,"v":0.85},{"s":"R3c","d":71.0,"v":1.12},{"s":"R3c","d":79.1,"v":1.5},{"s":"R3c","d":88.2,"v":1.88},{"s":"R3c","d":98.2,"v":2.2},{"s":"R3c","d":109.4,"v":2.5},{"s":"R3c","d":121.9,"v":2.8},{"s":"R3c","d":135.8,"v":3.08},{"s":"R3c","d":151.2,"v":3.18},{"s":"R3c","d":168.5,"v":3.1},{"s":"R3c","d":187.7,"v":2.7},{"s":"R3c","d":209.1,"v":2.15},{"s":"R3c","d":232.9,"v":1.7},{"s":"R3c","d":259.5,"v":1.15},{"s":"R3c","d":289.1,"v":0.72},{"s":"R3c","d":322.0,"v":0.48},{"s":"R3c","d":358.7,"v":0.34},{"s":"R3c","d":399.6,"v":0.22},{"s":"R3c","d":445.1,"v":0.14},{"s":"R3c","d":495.8,"v":0.09},{"s":"R3c","d":552.3,"v":0.06},{"s":"R3c","d":615.3,"v":0.04},{"s":"R3c","d":673.2,"v":0.03},
{"s":"R6a","d":14.1,"v":0.28},{"s":"R6a","d":15.0,"v":0.16},{"s":"R6a","d":17.5,"v":0.08},{"s":"R6a","d":21.7,"v":0.04},{"s":"R6a","d":26.9,"v":0.05},{"s":"R6a","d":33.4,"v":0.13},{"s":"R6a","d":37.2,"v":0.24},{"s":"R6a","d":41.4,"v":0.42},{"s":"R6a","d":46.1,"v":0.66},{"s":"R6a","d":51.4,"v":0.95},{"s":"R6a","d":57.3,"v":1.38},{"s":"R6a","d":63.8,"v":1.92},{"s":"R6a","d":71.0,"v":2.55},{"s":"R6a","d":79.1,"v":3.15},{"s":"R6a","d":88.2,"v":3.72},{"s":"R6a","d":98.2,"v":4.25},{"s":"R6a","d":109.4,"v":4.72},{"s":"R6a","d":121.9,"v":5.2},{"s":"R6a","d":135.8,"v":5.85},{"s":"R6a","d":151.2,"v":5.78},{"s":"R6a","d":168.5,"v":5.45},{"s":"R6a","d":187.7,"v":5.0},{"s":"R6a","d":209.1,"v":4.25},{"s":"R6a","d":232.9,"v":3.55},{"s":"R6a","d":259.5,"v":2.5},{"s":"R6a","d":289.1,"v":1.72},{"s":"R6a","d":322.0,"v":1.1},{"s":"R6a","d":358.7,"v":0.62},{"s":"R6a","d":399.6,"v":0.34},{"s":"R6a","d":445.1,"v":0.19},{"s":"R6a","d":495.8,"v":0.11},{"s":"R6a","d":552.3,"v":0.07},{"s":"R6a","d":615.3,"v":0.05},{"s":"R6a","d":673.2,"v":0.04},
{"s":"R6b","d":14.1,"v":0.3},{"s":"R6b","d":15.0,"v":0.18},{"s":"R6b","d":17.5,"v":0.09},{"s":"R6b","d":21.7,"v":0.05},{"s":"R6b","d":26.9,"v":0.06},{"s":"R6b","d":33.4,"v":0.15},{"s":"R6b","d":37.2,"v":0.28},{"s":"R6b","d":41.4,"v":0.48},{"s":"R6b","d":46.1,"v":0.72},{"s":"R6b","d":51.4,"v":1.05},{"s":"R6b","d":57.3,"v":1.5},{"s":"R6b","d":63.8,"v":2.05},{"s":"R6b","d":71.0,"v":2.7},{"s":"R6b","d":79.1,"v":3.3},{"s":"R6b","d":88.2,"v":3.95},{"s":"R6b","d":98.2,"v":4.45},{"s":"R6b","d":105,"v":4.9},{"s":"R6b","d":111,"v":5.1},{"s":"R6b","d":116,"v":5.35},{"s":"R6b","d":121.9,"v":5.55},{"s":"R6b","d":126,"v":5.7},{"s":"R6b","d":136,"v":6.04},{"s":"R6b","d":145,"v":6.04},{"s":"R6b","d":150,"v":5.85},{"s":"R6b","d":157,"v":5.93},{"s":"R6b","d":167,"v":5.5},{"s":"R6b","d":176,"v":5.4},{"s":"R6b","d":187.7,"v":5.05},{"s":"R6b","d":197,"v":4.77},{"s":"R6b","d":209.1,"v":4.35},{"s":"R6b","d":232.9,"v":3.6},{"s":"R6b","d":259.5,"v":2.45},{"s":"R6b","d":289.1,"v":1.7},{"s":"R6b","d":322.0,"v":1.05},{"s":"R6b","d":358.7,"v":0.58},{"s":"R6b","d":399.6,"v":0.32},{"s":"R6b","d":445.1,"v":0.18},{"s":"R6b","d":495.8,"v":0.1},{"s":"R6b","d":552.3,"v":0.07},{"s":"R6b","d":615.3,"v":0.05},{"s":"R6b","d":673.2,"v":0.04},
{"s":"R6c","d":14.1,"v":0.25},{"s":"R6c","d":15.0,"v":0.14},{"s":"R6c","d":17.5,"v":0.07},{"s":"R6c","d":21.7,"v":0.04},{"s":"R6c","d":26.9,"v":0.05},{"s":"R6c","d":33.4,"v":0.12},{"s":"R6c","d":37.2,"v":0.2},{"s":"R6c","d":41.4,"v":0.36},{"s":"R6c","d":46.1,"v":0.58},{"s":"R6c","d":51.4,"v":0.85},{"s":"R6c","d":57.3,"v":1.22},{"s":"R6c","d":63.8,"v":1.7},{"s":"R6c","d":71.0,"v":2.3},{"s":"R6c","d":79.1,"v":2.95},{"s":"R6c","d":88.2,"v":3.55},{"s":"R6c","d":98.2,"v":4.1},{"s":"R6c","d":109.4,"v":4.6},{"s":"R6c","d":121.9,"v":5.1},{"s":"R6c","d":135.8,"v":5.45},{"s":"R6c","d":151.2,"v":5.7},{"s":"R6c","d":168.5,"v":5.55},{"s":"R6c","d":187.7,"v":5.1},{"s":"R6c","d":209.1,"v":4.4},{"s":"R6c","d":232.9,"v":3.7},{"s":"R6c","d":259.5,"v":2.6},{"s":"R6c","d":289.1,"v":1.8},{"s":"R6c","d":322.0,"v":1.15},{"s":"R6c","d":358.7,"v":0.65},{"s":"R6c","d":399.6,"v":0.36},{"s":"R6c","d":445.1,"v":0.2},{"s":"R6c","d":495.8,"v":0.12},{"s":"R6c","d":552.3,"v":0.08},{"s":"R6c","d":615.3,"v":0.05},{"s":"R6c","d":673.2,"v":0.04},
{"s":"R9","d":14.1,"v":0.32},{"s":"R9","d":15.0,"v":0.2},{"s":"R9","d":17.5,"v":0.1},{"s":"R9","d":21.7,"v":0.05},{"s":"R9","d":26.9,"v":0.07},{"s":"R9","d":30.0,"v":0.12},{"s":"R9","d":33.4,"v":0.2},{"s":"R9","d":37.2,"v":0.38},{"s":"R9","d":41.4,"v":0.6},{"s":"R9","d":46.1,"v":0.88},{"s":"R9","d":51.4,"v":1.25},{"s":"R9","d":57.3,"v":1.85},{"s":"R9","d":63.8,"v":2.6},{"s":"R9","d":69.3,"v":3.15},{"s":"R9","d":75.9,"v":3.72},{"s":"R9","d":79.1,"v":4.35},{"s":"R9","d":82.4,"v":4.71},{"s":"R9","d":85.5,"v":4.77},{"s":"R9","d":88.1,"v":5.13},{"s":"R9","d":90.8,"v":5.62},{"s":"R9","d":93.8,"v":6.09},{"s":"R9","d":99.6,"v":6.16},{"s":"R9","d":105.6,"v":7.0},{"s":"R9","d":109.5,"v":7.12},{"s":"R9","d":113.6,"v":7.54},{"s":"R9","d":118.7,"v":7.84},{"s":"R9","d":122.3,"v":8.35},{"s":"R9","d":124.9,"v":8.32},{"s":"R9","d":130.8,"v":8.53},{"s":"R9","d":135.9,"v":8.53},{"s":"R9","d":145.6,"v":8.32},{"s":"R9","d":151.3,"v":8.53},{"s":"R9","d":157.4,"v":8.38},{"s":"R9","d":163.7,"v":8.65},{"s":"R9","d":174.7,"v":7.96},{"s":"R9","d":183.6,"v":7.66},{"s":"R9","d":193,"v":7.18},{"s":"R9","d":200,"v":6.76},{"s":"R9","d":209.1,"v":6.2},{"s":"R9","d":217,"v":5.5},{"s":"R9","d":224,"v":5.55},{"s":"R9","d":247,"v":3.69},{"s":"R9","d":259.5,"v":3.4},{"s":"R9","d":272,"v":2.95},{"s":"R9","d":289.1,"v":2.15},{"s":"R9","d":310,"v":1.6},{"s":"R9","d":322.0,"v":1.2},{"s":"R9","d":358.7,"v":0.7},{"s":"R9","d":399.6,"v":0.38},{"s":"R9","d":445.1,"v":0.23},{"s":"R9","d":495.8,"v":0.14},{"s":"R9","d":552.3,"v":0.09},{"s":"R9","d":615.3,"v":0.06},{"s":"R9","d":673.2,"v":0.04}
],
"boxes": [
{"g":"r","t":"Setting 90","x1":15.3,"x2":34.46,"y1":9.275,"y2":8.46,"tx":16.3,"ty":8.71},
{"g":"r","t":"Setting 60","x1":15.3,"x2":34.46,"y1":6.784,"y2":5.998,"tx":16.3,"ty":6.25},
{"g":"r","t":"Setting 30","x1":15.3,"x2":34.46,"y1":4.03,"y2":3.216,"tx":16.3,"ty":3.47},
{"g":"r","t":"Setting 10","x1":15.3,"x2":34.46,"y1":2.04,"y2":1.253,"tx":16.3,"ty":1.5},
{"g":"b","t":"Setting 90","x1":354.3,"x2":820.6,"y1":7.297,"y2":6.504,"tx":376.3,"ty":6.74},
{"g":"b","t":"Setting 60","x1":354.3,"x2":820.6,"y1":6.194,"y2":5.379,"tx":376.3,"ty":5.62},
{"g":"b","t":"Setting 30","x1":354.3,"x2":820.6,"y1":3.85,"y2":3.057,"tx":376.3,"ty":3.3},
{"g":"b","t":"Setting 10","x1":354.3,"x2":820.6,"y1":2.024,"y2":1.226,"tx":376.3,"ty":1.47}
],
"rules": [
{"x1":16.07,"x2":145,"y":8.35},
{"x1":16.07,"x2":145,"y":5.89},
{"x1":16.07,"x2":145,"y":3.1},
{"x1":16.07,"x2":145,"y":1.14},
{"x1":151,"x2":778,"y":6.4},
{"x1":157,"x2":778,"y":5.27},
{"x1":151,"x2":778,"y":2.95},
{"x1":151,"x2":778,"y":1.12}
]
},
"layer": [
{
"data": {"name": "curves"},
"mark": {"type": "line", "strokeWidth": 1, "clip": true},
"encoding": {
"x": {"field": "d", "type": "quantitative",
"scale": {"type": "log", "domain": [10, 1000]},
"axis": {"title": "Equivalent Mobility Diameter [nm]",
"values": [10,20,30,40,50,60,70,80,90,100,200,300,400,500,600,700,800,900,1000],
"labelExpr": "(datum.value==10||datum.value==100||datum.value==1000) ? datum.value+'' : ''",
"tickSize": {"condition": {"test": "datum.value==10||datum.value==100||datum.value==1000", "value": 8}, "value": 5},
"labelFontSize": 24, "labelColor": "black", "labelPadding": 17, "labelFlush": false, "labelOverlap": false,
"domainColor": "#111", "domainWidth": 1.5, "tickColor": "#111", "tickWidth": 1.2, "grid": false,
"titleFontSize": 24.5, "titleFontWeight": "bold", "titleColor": "black", "titlePadding": 3}},
"y": {"field": "v", "type": "quantitative",
"scale": {"domain": [0, 10], "nice": false},
"axis": {"title": "Particle Number", "values": [0,1,2,3,4,5,6,7,8,9,10], "labels": false,
"tickSize": 9, "domainColor": "#111", "domainWidth": 1.5, "tickColor": "#111", "tickWidth": 1.2, "grid": false,
"titleFontSize": 24.5, "titleFontWeight": "bold", "titleColor": "black", "titlePadding": 34}},
"color": {"field": "s", "type": "nominal", "legend": null,
"scale": {"domain": ["B1a","B1b","B1c","B1d","B1e","B3a","B3b","B3c","B3d","B3e","B6a","B6b","B6c","B6d","B6e","B9a","B9b","B9c","B9d","B9e","R1a","R1b","R1c","R3a","R3b","R3c","R6a","R6b","R6c","R9"],
"range": ["#0000ff","#0000ff","#0000ff","#0000ff","#0000ff","#0000ff","#0000ff","#0000ff","#0000ff","#0000ff","#0000ff","#0000ff","#0000ff","#0000ff","#0000ff","#0000ff","#0000ff","#0000ff","#0000ff","#0000ff","#ff0000","#ff0000","#ff0000","#ff0000","#ff0000","#ff0000","#ff0000","#ff0000","#ff0000","#ff0000"]}}
}
},
{
"data": {"name": "rules"},
"mark": {"type": "rule", "color": "#333", "strokeWidth": 1.6},
"encoding": {
"x": {"field": "x1", "type": "quantitative"},
"x2": {"field": "x2"},
"y": {"field": "y", "type": "quantitative"}
}
},
{
"data": {"name": "boxes"},
"mark": {"type": "rect", "fill": "white", "stroke": "#333", "strokeWidth": 1.5},
"encoding": {
"x": {"field": "x1", "type": "quantitative"},
"x2": {"field": "x2"},
"y": {"field": "y1", "type": "quantitative"},
"y2": {"field": "y2"}
}
},
{
"data": {"name": "boxes"},
"mark": {"type": "text", "align": "left", "baseline": "alphabetic", "fontSize": 31, "font": "Liberation Sans"},
"encoding": {
"x": {"field": "tx", "type": "quantitative"},
"y": {"field": "ty", "type": "quantitative"},
"text": {"field": "t"},
"color": {"field": "g", "type": "nominal", "legend": null, "scale": {"domain": ["r","b"], "range": ["#ff0000","#0000ff"]}}
}
}
],
"resolve": {"scale": {"color": "independent"}}
}
